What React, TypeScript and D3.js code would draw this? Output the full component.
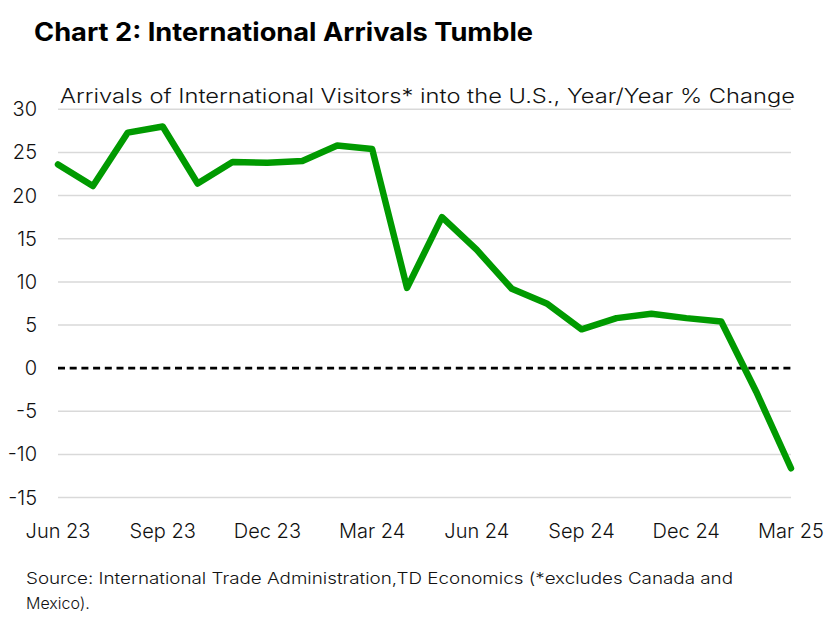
import React, { useEffect, useRef } from "react";
import * as d3 from "d3";

const months = [
  "Jun 23", "Jul 23", "Aug 23", "Sep 23", "Oct 23", "Nov 23", "Dec 23",
  "Jan 24", "Feb 24", "Mar 24", "Apr 24", "May 24", "Jun 24", "Jul 24",
  "Aug 24", "Sep 24", "Oct 24", "Nov 24", "Dec 24", "Jan 25", "Feb 25", "Mar 25",
];
const arrivalsYoY = [
  23.6, 21.1, 27.3, 28.0, 21.4, 23.9, 23.8, 24.0, 25.8, 25.4, 9.3,
  17.5, 13.7, 9.2, 7.5, 4.5, 5.8, 6.3, 5.8, 5.4, -2.7, -11.6,
];
const yTicks = [30, 25, 20, 15, 10, 5, 0, -5, -10, -15];
const xTickLabels = ["Jun 23", "Sep 23", "Dec 23", "Mar 24", "Jun 24", "Sep 24", "Dec 24", "Mar 25"];

const W = 827;
const H = 617;
const FONT = "Inter, 'Noto Sans', sans-serif";

export default function App() {
  const svgRef = useRef<SVGSVGElement>(null);

  useEffect(() => {
    if (!svgRef.current) return;
    const svg = d3.select(svgRef.current);
    svg.selectAll("*").remove();

    const x = d3.scalePoint<string>().domain(months).range([58, 791]);
    const y = d3.scaleLinear().domain([-15, 30]).range([497.6, 109.3]);

    // title + subtitle
    svg.append("text")
      .attr("x", 34).attr("y", 41)
      .attr("textLength", 499).attr("lengthAdjust", "spacingAndGlyphs")
      .style("font-family", FONT).style("font-size", "25px").style("font-weight", 700)
      .attr("fill", "#000")
      .text("Chart 2: International Arrivals Tumble");

    svg.append("text")
      .attr("x", 60).attr("y", 103)
      .attr("textLength", 735).attr("lengthAdjust", "spacingAndGlyphs")
      .style("font-family", FONT).style("font-size", "20px").style("font-weight", 300)
      .attr("fill", "#111")
      .text("Arrivals of International Visitors* into the U.S., Year/Year % Change");

    // gridlines
    svg.append("g").selectAll("line")
      .data(yTicks.filter(d => d !== 0))
      .join("line")
      .attr("x1", 58).attr("x2", 791)
      .attr("y1", d => y(d)).attr("y2", d => y(d))
      .attr("stroke", "#d9d9d9").attr("stroke-width", 1.5);

    // zero line
    svg.append("line")
      .attr("x1", 58).attr("x2", 791)
      .attr("y1", y(0)).attr("y2", y(0))
      .attr("stroke", "#000").attr("stroke-width", 2.8)
      .attr("stroke-dasharray", "7,4.7");

    // y labels
    svg.append("g").selectAll("text")
      .data(yTicks)
      .join("text")
      .attr("x", 37).attr("y", d => y(d) + 7)
      .attr("text-anchor", "end")
      .style("font-family", FONT).style("font-size", "20px").style("font-weight", 300)
      .attr("fill", "#111")
      .text(d => String(d));

    // x labels
    svg.append("g").selectAll("text")
      .data(xTickLabels)
      .join("text")
      .attr("x", d => x(d)!)
      .attr("y", 538)
      .attr("text-anchor", "middle")
      .style("font-family", FONT).style("font-size", "20px").style("font-weight", 300)
      .attr("fill", "#111")
      .text(d => d);

    // series
    const line = d3.line<number>()
      .x((_, i) => x(months[i])!)
      .y(d => y(d));

    svg.append("path")
      .datum(arrivalsYoY)
      .attr("d", line)
      .attr("fill", "none")
      .attr("stroke", "#009a00")
      .attr("stroke-width", 6.5)
      .attr("stroke-linejoin", "round")
      .attr("stroke-linecap", "round");

    // source note
    const src = svg.append("text")
      .style("font-family", FONT).style("font-size", "16px").style("font-weight", 300)
      .attr("fill", "#111");
    src.append("tspan").attr("x", 26).attr("y", 584)
      .attr("textLength", 707).attr("lengthAdjust", "spacingAndGlyphs")
      .text("Source: International Trade Administration,TD Economics (*excludes Canada and");
    src.append("tspan").attr("x", 26).attr("y", 609)
      .text("Mexico).");
  }, []);

  return (
    <div style={{ position: "absolute", left: 0, top: 0, width: W, height: H, background: "#fff" }}>
      <svg ref={svgRef} width={W} height={H} />
    </div>
  );
}
